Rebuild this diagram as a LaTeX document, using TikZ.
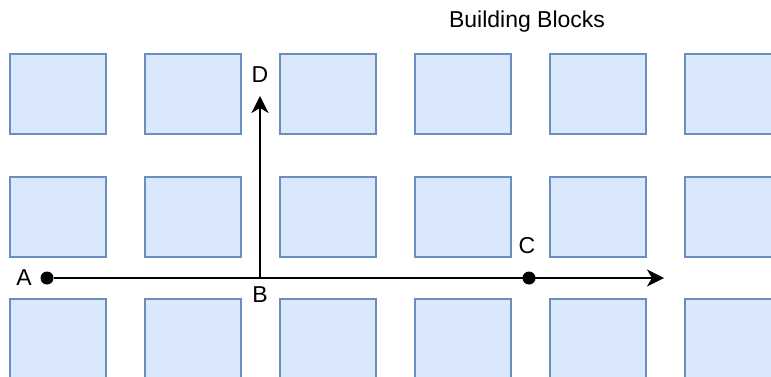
\documentclass[tikz,border=0pt]{standalone}
\usepackage{fontspec}
\setmainfont{Liberation Sans}
\usetikzlibrary{arrows.meta,positioning}
\definecolor{blockfill}{RGB}{218,232,252}
\definecolor{blockline}{RGB}{108,142,191}

\begin{document}
\begin{tikzpicture}[
  x=1pt, y=-1pt,
  font=\fontsize{23}{27}\selectfont,
  block/.style={draw=blockline, fill=blockfill, line width=2pt, minimum width=96pt, minimum height=80pt, inner sep=0pt},
  dot/.style={circle, fill=black, inner sep=0pt, minimum size=13pt},
  lbl/.style={inner sep=0pt},
  arr/.style={-{Stealth[length=17pt, width=17pt, inset=5pt]}, line width=1.8pt}
]
\clip (0,0) rectangle (771,377);
% grid of building blocks
\foreach \row/\y in {1/94.5, 2/216.5, 3/338.5}
  \foreach \col in {1,...,6}
    \node[block] (blk-\row-\col) at ({57.5+135*(\col-1)}, \y) {};
\node (title) at (527,22) {Building Blocks};
% path points
\node[dot] (a) at (47,278) {};
\coordinate (b) at (260,278);
\node[dot] (c) at (529,278) {};
\coordinate (d) at (260,96);
\coordinate (end) at (664,278);
\draw[arr] (a) -- (end);
\draw[arr] (b) -- (d);
\node[lbl, left=8.5pt of a] (la) {A};
\node[lbl, below=8.5pt of b] (lb) {B};
\node[lbl, above=17pt of c, xshift=-2pt] (lc) {C};
\node[lbl, above=13pt of d] (ld) {D};
\end{tikzpicture}
\end{document}
